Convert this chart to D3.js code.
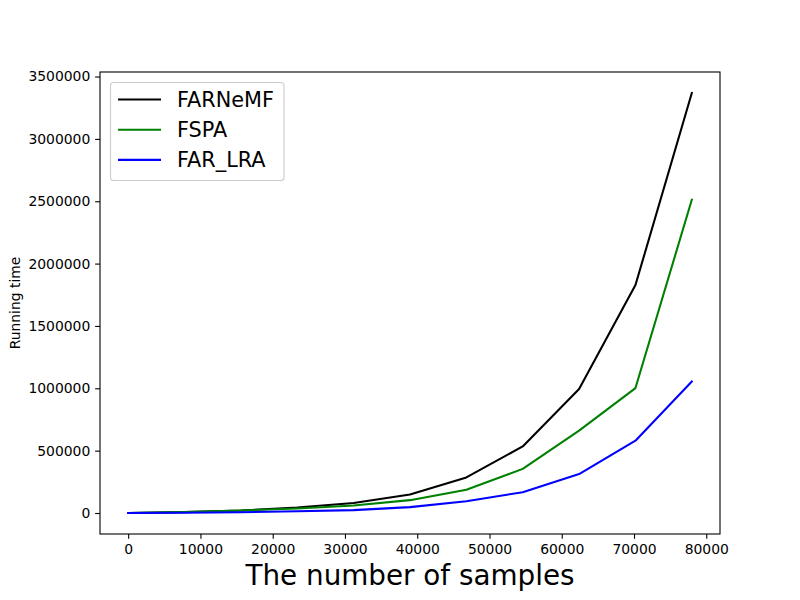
<!DOCTYPE html>
<html>
<head>
<meta charset="utf-8">
<script src="https://cdn.jsdelivr.net/npm/d3@7"></script>
<style>
  html, body { margin: 0; padding: 0; background: #fff; }
  svg { display: block; font-family: "DejaVu Sans", sans-serif; }
</style>
</head>
<body>
<svg id="chart" width="800" height="600"></svg>
<script>
const samples = [0, 7800, 15600, 23400, 31200, 39000, 46800, 54600, 62400, 70200, 78000];
const farnemf = [0, 8000, 20000, 44000, 80000, 148000, 285000, 534000, 994000, 1828000, 3368000];
const fspa    = [0, 7000, 20000, 36000, 60000, 103000, 186000, 354000, 660000, 1002000, 2512000];
const farlra  = [0, 2000, 6000, 14000, 23000, 47000, 94000, 167000, 312000, 580000, 1055000];
const seriesNames = ["FARNeMF", "FSPA", "FAR_LRA"];
const seriesColors = ["#000000", "#008000", "#0000ff"];
const xTicks = [0, 10000, 20000, 30000, 40000, 50000, 60000, 70000, 80000];
const yTicks = [0, 500000, 1000000, 1500000, 2000000, 2500000, 3000000, 3500000];

const seriesValues = [farnemf, fspa, farlra];
const W = 800, H = 600;
const m = { left: 100, right: 80, top: 72, bottom: 66 };
const svg = d3.select("#chart");

const xMin = d3.min(samples), xMax = d3.max(samples);
const allY = seriesValues.flat();
const yMin = d3.min(allY), yMax = d3.max(allY);
const xPad = (xMax - xMin) * 0.05, yPad = (yMax - yMin) * 0.05;

const x = d3.scaleLinear().domain([xMin - xPad, xMax + xPad]).range([m.left, W - m.right]);
const y = d3.scaleLinear().domain([yMin - yPad, yMax + yPad]).range([H - m.bottom, m.top]);

const tickLen = 4.86;
const fontTick = "13.9px";

// lines
const line = d3.line().x((d, i) => x(samples[i])).y(d => y(d));
const plot = svg.append("g");
seriesValues.forEach((vals, k) => {
  plot.append("path")
    .datum(vals)
    .attr("fill", "none")
    .attr("stroke", seriesColors[k])
    .attr("stroke-width", 2.08)
    .attr("stroke-linejoin", "round")
    .attr("stroke-linecap", "square")
    .attr("d", line);
});

// axes
const xAxis = d3.axisBottom(x).tickValues(xTicks).tickFormat(d3.format("d")).tickSize(tickLen).tickPadding(4.86);
const yAxis = d3.axisLeft(y).tickValues(yTicks).tickFormat(d3.format("d")).tickSize(tickLen).tickPadding(4.86);

const gx = svg.append("g").attr("transform", `translate(0,${H - m.bottom})`).call(xAxis);
const gy = svg.append("g").attr("transform", `translate(${m.left},0)`).call(yAxis);
[gx, gy].forEach(g => {
  g.select(".domain").remove();
  g.selectAll(".tick line").attr("stroke", "#000").attr("stroke-width", 1.1);
  g.selectAll(".tick text").attr("fill", "#000").style("font-size", fontTick).style("font-family", "DejaVu Sans");
});

// frame
svg.append("rect")
  .attr("x", m.left).attr("y", m.top)
  .attr("width", W - m.left - m.right).attr("height", H - m.top - m.bottom)
  .attr("fill", "none").attr("stroke", "#000").attr("stroke-width", 1.1);

// axis labels
svg.append("text")
  .attr("x", (m.left + W - m.right) / 2).attr("y", 585)
  .attr("text-anchor", "middle")
  .style("font-size", "27.8px").attr("fill", "#000")
  .text("The number of samples");

svg.append("text")
  .attr("transform", `translate(20,${(m.top + H - m.bottom) / 2}) rotate(-90)`)
  .attr("text-anchor", "middle")
  .style("font-size", "13.9px").attr("fill", "#000")
  .text("Running time");

// legend
const lg = svg.append("g");
lg.append("rect")
  .attr("x", 110.5).attr("y", 82.5).attr("width", 173.5).attr("height", 98)
  .attr("rx", 3).attr("ry", 3)
  .attr("fill", "#fff").attr("fill-opacity", 0.8)
  .attr("stroke", "#cccccc").attr("stroke-width", 1.1);
seriesNames.forEach((name, k) => {
  const yy = 99.5 + k * 30.2;
  lg.append("line")
    .attr("x1", 118).attr("x2", 161).attr("y1", yy).attr("y2", yy)
    .attr("stroke", seriesColors[k]).attr("stroke-width", 2.08);
  lg.append("text")
    .attr("x", 177).attr("y", yy).attr("dy", "0.36em")
    .style("font-size", "20.8px").attr("fill", "#000")
    .text(name);
});
</script>
</body>
</html>
